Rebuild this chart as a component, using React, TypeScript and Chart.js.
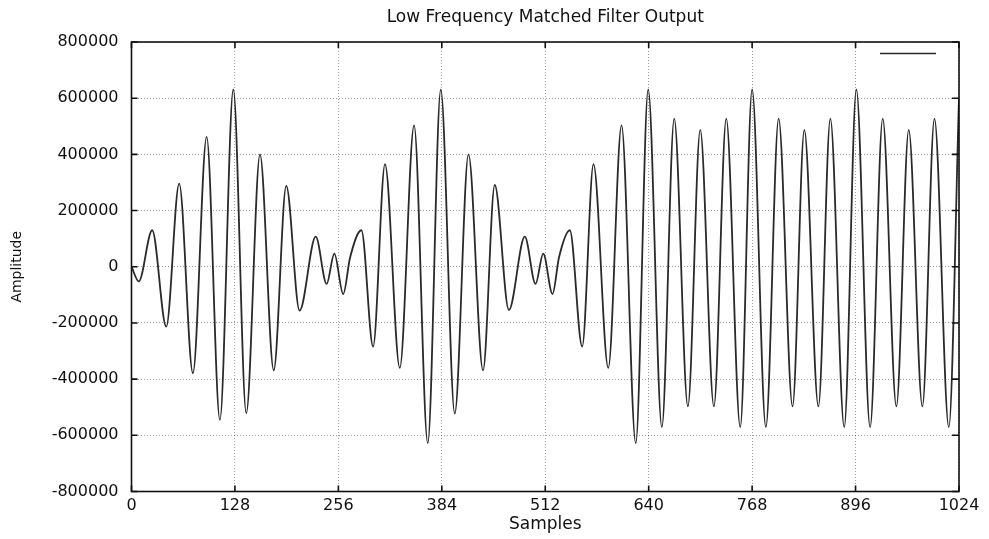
import React, { useEffect, useRef } from "react";
import { Chart, registerables } from "chart.js";

Chart.register(...registerables);

// Extrema (and a few shape points)
const sampleIndex = [
  0, 9, 25.6, 43, 59, 76, 93, 109.4, 126, 142, 159, 176, 191.5, 208, 228, 241.5, 251,
  262, 270.5, 284.5, 299, 313.7, 332, 349.7, 366.6, 382.7, 400, 417, 435, 449.5, 467, 486.7, 500, 509.5,
  521, 529, 542.4, 557.7, 571.7, 590, 606.4, 624, 639.4, 656.3, 671.6, 688.5, 703.8, 720.7, 736, 753.3,
  768, 785, 800.8, 818, 832.6, 850, 864.8, 882, 897, 914, 929.6, 946.5, 961.8, 978.7, 993.6, 1011.4, 1024,
];
const amplitude = [
  0, -52000, 130000, -213000, 296000, -379000, 462000, -545000, 631000, -521000, 400000, -369000, 288000, -156000, 107000, -61000, 47000,
  -97000, 33000, 130000, -284000, 365000, -360000, 503000, -628000, 631000, -523000, 400000, -369000, 291000, -154000, 107000, -61000, 47000,
  -97000, 33000, 130000, -284000, 365000, -360000, 503000, -628000, 631000, -571000, 527000, -497000, 487000, -497000, 527000, -571000,
  631000, -571000, 527000, -497000, 487000, -497000, 527000, -571000, 631000, -571000, 527000, -497000, 487000, -497000, 527000, -571000, 600000,
];

const xTickValues = [0, 128, 256, 384, 512, 640, 768, 896, 1024];
const yTickValues = [-800000, -600000, -400000, -200000, 0, 200000, 400000, 600000, 800000];

const chartTitle = "Low Frequency Matched Filter Output";
const xAxisTitle = "Samples";
const yAxisTitle = "Amplitude";

const FONT = "'DejaVu Sans', 'Liberation Sans', Arial, sans-serif";
const INK = "#111";

// center the chart title over the plot area, as in the reference
const centerTitle = {
  id: "centerTitle",
  afterLayout(chart: any) {
    const tb = chart.titleBlock;
    if (tb) {
      tb.left = chart.chartArea.left;
      tb.right = chart.chartArea.right;
    }
  },
};

const frameAndTicks = {
  id: "frameAndTicks",
  afterDatasetsDraw(chart: any) {
    const { ctx, chartArea: a, scales } = chart;
    ctx.save();
    ctx.strokeStyle = INK;
    ctx.lineWidth = 1.6;
    ctx.strokeRect(a.left, a.top, a.right - a.left, a.bottom - a.top);
    ctx.beginPath();
    for (const v of xTickValues) {
      const x = scales.x.getPixelForValue(v);
      ctx.moveTo(x, a.bottom);
      ctx.lineTo(x, a.bottom - 6);
      ctx.moveTo(x, a.top);
      ctx.lineTo(x, a.top + 6);
    }
    for (const v of yTickValues) {
      const y = scales.y.getPixelForValue(v);
      ctx.moveTo(a.left, y);
      ctx.lineTo(a.left + 6, y);
      ctx.moveTo(a.right, y);
      ctx.lineTo(a.right - 7, y);
    }
    ctx.stroke();
    // legend key (no label)
    ctx.beginPath();
    ctx.lineWidth = 1.6;
    ctx.strokeStyle = "#2a2a2a";
    ctx.moveTo(a.right - 79, a.top + 11.5);
    ctx.lineTo(a.right - 23, a.top + 11.5);
    ctx.stroke();
    ctx.restore();
  },
};

export default function App() {
  const canvasRef = useRef<HTMLCanvasElement | null>(null);

  useEffect(() => {
    document.body.style.margin = "0";
    const canvas = canvasRef.current;
    if (!canvas) return;
    const chart = new Chart(canvas, {
      type: "line",
      data: {
        datasets: [
          {
            data: sampleIndex.map((x, i) => ({ x, y: amplitude[i] })),
            borderColor: "#2a2a2a",
            borderWidth: 1.8,
            pointRadius: 0,
            fill: false,
            cubicInterpolationMode: "monotone",
          },
        ],
      },
      options: {
        responsive: false,
        animation: false,
        devicePixelRatio: 1,
        layout: { padding: { left: 0, right: 30, top: 0, bottom: 0 } },
        plugins: {
          legend: { display: false },
          tooltip: { enabled: false },
          title: {
            display: true,
            text: chartTitle,
            color: INK,
            font: { family: FONT, size: 17, weight: "normal" },
            padding: { top: 7, bottom: 14.6 },
          },
        },
        scales: {
          x: {
            type: "linear",
            min: 0,
            max: 1024,
            afterBuildTicks: (s: any) => {
              s.ticks = xTickValues.map((value) => ({ value }));
            },
            afterFit: (s: any) => {
              s.height = 47.5;
            },
            grid: { color: "rgba(0,0,0,0.38)", lineWidth: 1, drawTicks: false },
            border: { display: false, dash: [1, 2] },
            ticks: {
              padding: 5,
              color: INK,
              font: { family: FONT, size: 16 },
              maxRotation: 0,
              autoSkip: false,
              callback: (v: any) => String(v),
            },
            title: {
              display: true,
              text: xAxisTitle,
              color: INK,
              font: { family: FONT, size: 17 },
              padding: { top: 0, bottom: 4 },
            },
          },
          y: {
            type: "linear",
            min: -800000,
            max: 800000,
            afterBuildTicks: (s: any) => {
              s.ticks = yTickValues.map((value) => ({ value }));
            },
            afterFit: (s: any) => {
              s.width = 131.5;
            },
            grid: { color: "rgba(0,0,0,0.38)", lineWidth: 1, drawTicks: false },
            border: { display: false, dash: [1, 2] },
            ticks: {
              padding: 13,
              color: INK,
              font: { family: FONT, size: 16 },
              autoSkip: false,
              callback: (v: any) => String(v),
            },
            title: {
              display: true,
              text: yAxisTitle,
              color: INK,
              font: { family: FONT, size: 14 },
              padding: { top: 9, bottom: 0 },
            },
          },
        },
      },
      plugins: [centerTitle, frameAndTicks],
    } as any);
    return () => chart.destroy();
  }, []);

  return (
    <div style={{ width: 989, height: 539, background: "#fff" }}>
      <canvas ref={canvasRef} width={989} height={539} style={{ display: "block" }} />
    </div>
  );
}
